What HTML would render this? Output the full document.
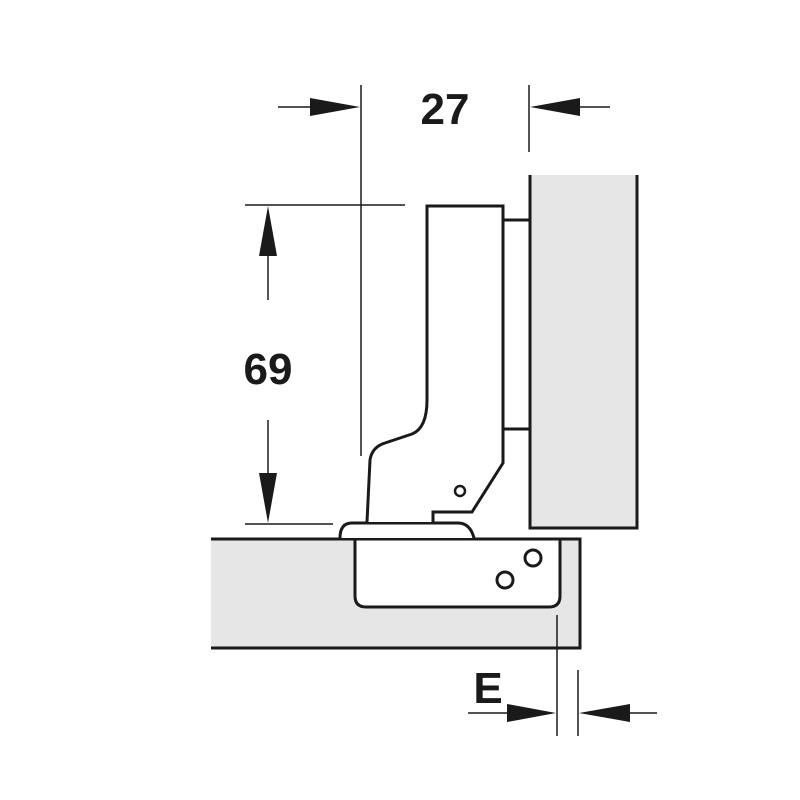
<!DOCTYPE html>
<html><head><style>html,body{margin:0;padding:0;background:#fff}svg{display:block}</style></head>
<body>
<svg width="800" height="800" viewBox="0 0 800 800" xmlns="http://www.w3.org/2000/svg">
<g fill="none" stroke="#1a1a1a">
<!-- door panel -->
<rect x="530" y="175" width="107" height="353" fill="#e6e6e6" stroke="none"/>
<path d="M530 175 V528 H637 V175" stroke-width="3"/>
<!-- mounting plate strip -->
<rect x="503" y="220" width="27" height="209" fill="#fff" stroke-width="3"/>
<!-- cabinet side -->
<rect x="211" y="539" width="369" height="109" fill="#e6e6e6" stroke="none"/>
<path d="M211 539 H580 V648 H211" stroke-width="3"/>
<!-- cup -->
<path d="M355 539 V596 Q355 607 366 607 H549 Q560 607 560 596 V539" fill="#fff" stroke-width="3"/>
<line x1="211" y1="539" x2="580" y2="539" stroke-width="3"/>
<!-- flange -->
<path d="M340 538 Q340 523 352 523 H458 Q470 523 474 538" fill="#fff" stroke-width="3"/>
<!-- hinge arm -->
<path d="M367 522 L370 460 Q372 447 385 443 L412 434 Q427 428 427 400 V206 H503 V463 L472 512 H433 V522" fill="#fff" stroke-width="3"/>
<circle cx="460" cy="491" r="5" stroke-width="2.5"/>
<circle cx="533" cy="558" r="8" stroke-width="3"/>
<circle cx="505" cy="580" r="8" stroke-width="3"/>
<!-- dimension lines -->
<g stroke-width="1.5">
<line x1="361" y1="85" x2="361" y2="456"/>
<line x1="529" y1="85" x2="529" y2="152"/>
<line x1="278" y1="107" x2="320" y2="107"/>
<line x1="570" y1="107" x2="610" y2="107"/>
<line x1="245" y1="205" x2="405" y2="205"/>
<line x1="245" y1="524" x2="333" y2="524"/>
<line x1="268" y1="240" x2="268" y2="300"/>
<line x1="268" y1="420" x2="268" y2="490"/>
<line x1="557" y1="615" x2="557" y2="736"/>
<line x1="578" y1="670" x2="578" y2="736"/>
<line x1="468" y1="713" x2="510" y2="713"/>
<line x1="620" y1="713" x2="657" y2="713"/>
</g>
</g>
<g fill="#1a1a1a">
<polygon points="360,107 310,98 310,116"/>
<polygon points="530,107 580,98 580,116"/>
<polygon points="268,206 259,256 277,256"/>
<polygon points="268,523 259,473 277,473"/>
<polygon points="556,713 507,704 507,722"/>
<polygon points="579,713 630,704 630,722"/>
</g>
<g font-family="Liberation Sans, sans-serif" font-weight="bold" fill="#1a1a1a">
<text x="445" y="124" font-size="44" text-anchor="middle">27</text>
<text x="268" y="384" font-size="44" text-anchor="middle">69</text>
<text x="488" y="703" font-size="44" text-anchor="middle">E</text>
</g>
</svg>
</body></html>
